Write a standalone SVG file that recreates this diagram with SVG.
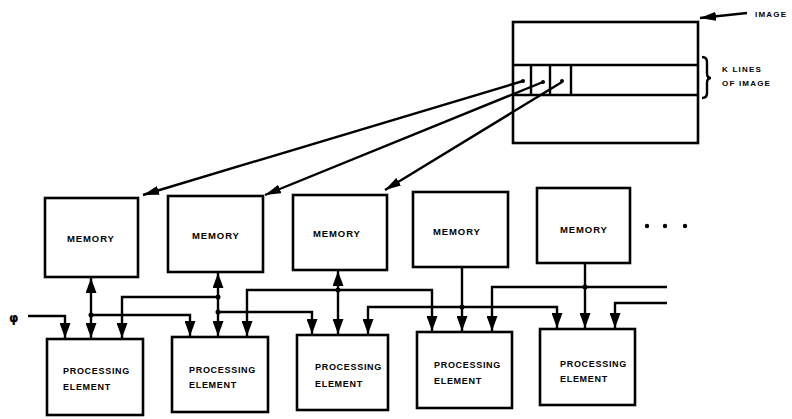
<svg xmlns="http://www.w3.org/2000/svg" width="792" height="419" viewBox="0 0 792 419">
<style>
.box{fill:#fff;stroke:#000;stroke-width:2.6}
.ln{fill:none;stroke:#000;stroke-width:2.4}
.t{font-family:"Liberation Sans",Arial,sans-serif;font-weight:bold;font-size:9px;letter-spacing:0.7px;fill:#000}
.tm{font-size:9.5px;letter-spacing:0.9px}
.ti{font-size:8px;letter-spacing:1.2px}
</style>
<defs>
<marker id="ah" viewBox="0 0 15 11" refX="15" refY="5.5" markerWidth="15" markerHeight="11" markerUnits="userSpaceOnUse" orient="auto-start-reverse">
<path d="M0,0 L15,5.5 L0,11 Z" fill="#000"/>
</marker>
<marker id="as" viewBox="0 0 16 9" refX="16" refY="4.5" markerWidth="16" markerHeight="9" markerUnits="userSpaceOnUse" orient="auto-start-reverse">
<path d="M0,0 L16,4.5 L0,9 Z" fill="#000"/>
</marker>
</defs>
<rect width="792" height="419" fill="#fff"/>

<g id="image">
<rect class="box" x="513" y="22" width="185" height="121"/>
<line class="ln" x1="513" y1="65" x2="698" y2="65"/>
<line class="ln" x1="513" y1="95" x2="698" y2="95"/>
<line class="ln" x1="531" y1="65" x2="531" y2="95"/>
<line class="ln" x1="550" y1="65" x2="550" y2="95"/>
<line class="ln" x1="571" y1="65" x2="571" y2="95"/>
<circle cx="523" cy="81" r="2"/>
<circle cx="543" cy="82" r="2"/>
<circle cx="562" cy="81" r="2"/>
<path class="ln" d="M702,57 Q707,57 707,62 V73 Q707,78 711,78 Q707,78 707,83 V93 Q707,98 702,98"/>
<text class="t ti" x="755" y="17">IMAGE</text>
<text class="t ti" x="722" y="72">K LINES</text>
<text class="t ti" x="722" y="86">OF IMAGE</text>
</g>

<g id="mem1"><rect class="box" x="45" y="198" width="93" height="79"/><text class="t tm" x="67" y="242">MEMORY</text></g>
<g id="mem2"><rect class="box" x="168" y="196" width="95" height="76"/><text class="t tm" x="192" y="239">MEMORY</text></g>
<g id="mem3"><rect class="box" x="293" y="195" width="94" height="75"/><text class="t tm" x="313" y="237">MEMORY</text></g>
<g id="mem4"><rect class="box" x="413" y="192" width="95" height="75"/><text class="t tm" x="433" y="235">MEMORY</text></g>
<g id="mem5"><rect class="box" x="537" y="188" width="93" height="75"/><text class="t tm" x="560" y="233">MEMORY</text></g>

<g id="pe1"><rect class="box" x="47" y="339" width="96" height="76"/><text class="t" x="63" y="374">PROCESSING</text><text class="t" x="63" y="390">ELEMENT</text></g>
<g id="pe2"><rect class="box" x="172" y="337" width="96" height="75"/><text class="t" x="189" y="373">PROCESSING</text><text class="t" x="189" y="388">ELEMENT</text></g>
<g id="pe3"><rect class="box" x="297" y="335" width="91" height="75"/><text class="t" x="315" y="370">PROCESSING</text><text class="t" x="315" y="387">ELEMENT</text></g>
<g id="pe4"><rect class="box" x="417" y="332" width="95" height="76"/><text class="t" x="434" y="368">PROCESSING</text><text class="t" x="434" y="384">ELEMENT</text></g>
<g id="pe5"><rect class="box" x="540" y="329" width="95" height="76"/><text class="t" x="560" y="367">PROCESSING</text><text class="t" x="560" y="382">ELEMENT</text></g>

<g id="connectors">
<path class="ln" d="M523,81 L143,195" marker-end="url(#as)"/>
<path class="ln" d="M543,82 L265,195" marker-end="url(#as)"/>
<path class="ln" d="M562,82 L385,190" marker-end="url(#as)"/>
<path class="ln" d="M747,13 L700,18" marker-end="url(#as)"/>

<path class="ln" d="M91,278 V338" marker-start="url(#ah)" marker-end="url(#ah)"/>
<path class="ln" d="M218,273 V336" marker-start="url(#ah)" marker-end="url(#ah)"/>
<path class="ln" d="M338,271 V334" marker-start="url(#ah)" marker-end="url(#ah)"/>
<path class="ln" d="M462,268 V331" marker-end="url(#ah)"/>
<path class="ln" d="M585,264 V328" marker-end="url(#ah)"/>

<path class="ln" d="M28,316 H65 V338" marker-end="url(#ah)"/>
<path class="ln" d="M91,315 H190 V336" marker-end="url(#ah)"/>
<path class="ln" d="M218,297 H122 V338" marker-end="url(#ah)"/>
<path class="ln" d="M218,312 H312 V334" marker-end="url(#ah)"/>
<path class="ln" d="M338,290 H247 V336" marker-end="url(#ah)"/>
<path class="ln" d="M338,290 H432 V331" marker-end="url(#ah)"/>
<path class="ln" d="M462,307 H368 V334" marker-end="url(#ah)"/>
<path class="ln" d="M462,307 H557 V328" marker-end="url(#ah)"/>
<path class="ln" d="M585,287 H492 V331" marker-end="url(#ah)"/>
<path class="ln" d="M585,287 H667"/>
<path class="ln" d="M667,303 H615 V328" marker-end="url(#ah)"/>

<circle cx="91" cy="315" r="2.5"/>
<circle cx="218" cy="297" r="2.5"/>
<circle cx="218" cy="312" r="2.5"/>
<circle cx="338" cy="290" r="2.5"/>
<circle cx="462" cy="307" r="2.5"/>
<circle cx="585" cy="287" r="2.5"/>
</g>

<text x="9" y="322" font-family="DejaVu Sans,sans-serif" font-weight="bold" font-size="12" fill="#000">φ</text>
<g id="ellipsis"><circle cx="647" cy="226" r="2.2"/><circle cx="665" cy="226" r="2.2"/><circle cx="685" cy="226" r="2.2"/></g>
</svg>
